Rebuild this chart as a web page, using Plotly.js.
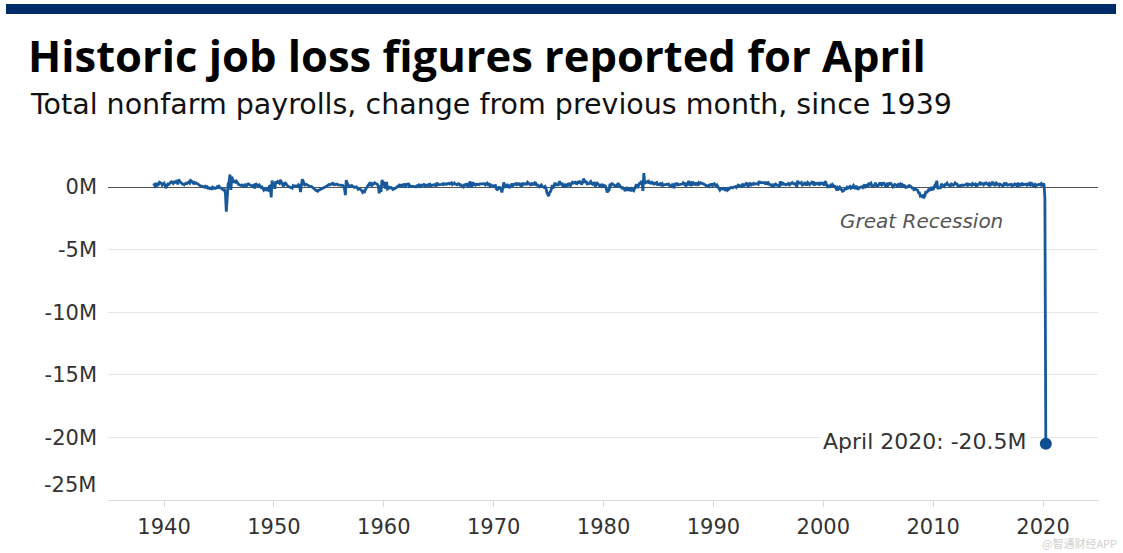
<!DOCTYPE html>
<html>
<head>
<meta charset="utf-8">
<script src="https://cdn.plot.ly/plotly-3.0.1.min.js"></script>
<style>
  html, body { margin: 0; padding: 0; background: #fff; }
  #chart { width: 1123px; height: 553px; }
</style>
</head>
<body>
<div id="chart"></div>
<script>
// Monthly change in total nonfarm payrolls, thousands, Jan 1939 .. Apr 2020
const startYear = 1939;
const monthlyChange = [
  140, 150, 220, -60, 330, 160, 200, 380, 340, 300, 150, 290,     // 1939
  310, 150, -90, 120, 240, 200, 260, 340, 420, 380, 290, 410,     // 1940
  380, 450, 520, 200, 610, 470, 380, 340, 250, 230, 180, 260,     // 1941
  310, 280, 350, 400, 320, 520, 470, 390, 300, 360, 280, 330,     // 1942
  270, 190, 180, 130, 90, 80, 40, 20, -10, 60, -20, 30,           // 1943
  -80, -60, -120, -90, -140, -20, -100, -60, -110, -80, 20, -40,  // 1944
  60, -30, -90, -180, -240, -230, -210, -480, -1960, -320, 260, 420, // 1945
  1000, -230, 820, 580, 350, 520, 400, 470, 320, 260, 180, 150,   // 1946
  120, 170, 110, 50, 140, 250, 90, 200, 260, 210, 160, 180,       // 1947
  120, 30, 230, -120, 290, 210, 140, 70, 160, 50, -30, 0,         // 1948
  -190, -250, -170, -140, -290, -180, -240, 60, 90, -820, 520, 160, // 1949
  190, -140, 460, 310, 430, 340, 300, 580, 360, 270, 120, 140,    // 1950
  370, 240, 200, 100, 40, 20, -40, -50, -90, 110, 60, 90,         // 1951
  80, 110, -30, 170, 110, -400, 120, 620, 480, 200, 160, 220,     // 1952
  180, 130, 90, 40, 30, 40, -20, -70, -120, -200, -280, -260,     // 1953
  -330, -250, -210, -130, -140, -110, -60, -30, 10, 40, 120, 180, // 1954
  200, 170, 230, 260, 300, 190, 240, 180, 210, 230, 170, 160,     // 1955
  120, 130, 100, 140, 30, -80, -650, 560, 300, 80, 40, 90,        // 1956
  70, 120, 40, 20, -30, -40, 10, -60, -180, -140, -160, -200,     // 1957
  -300, -420, -330, -370, -180, -60, 80, 160, 250, 110, 380, 140, // 1958
  180, 260, 340, 320, 250, 210, 90, -510, 100, -380, 550, 380,    // 1959
  340, 30, -110, 400, -150, -110, -20, -60, -40, -110, -200, -160, // 1960
  -110, -120, -40, 60, 70, 160, 120, 150, 80, 180, 210, 110,      // 1961
  -40, 300, 120, 320, 50, 80, 30, 70, 60, 30, 20, 0,              // 1962
  90, 70, 130, 230, 40, 80, 210, 70, 200, 160, -20, 160,          // 1963
  160, 200, 60, 190, 100, 150, 220, 200, 150, 50, 350, 180,       // 1964
  200, 190, 240, 220, 250, 190, 270, 250, 210, 260, 260, 300,     // 1965
  240, 280, 340, 200, 260, 320, 230, 200, 170, 250, 260, 170,     // 1966
  180, 80, 100, 20, 170, 180, 150, 300, 40, 120, 440, 250,        // 1967
  -50, 400, 150, 230, 160, 230, 190, 220, 190, 250, 280, 250,     // 1968
  250, 290, 270, 170, 270, 300, 180, 210, 70, 160, 100, 110,      // 1969
  70, 100, 120, -150, -210, -130, 40, -100, -170, -430, 180, 360, // 1970
  160, -50, 80, 180, 160, -80, 60, 100, 280, 110, 180, 240,       // 1971
  280, 190, 260, 200, 260, 190, 60, 340, 190, 260, 240, 220,      // 1972
  230, 380, 300, 210, 180, 240, 140, 350, 140, 340, 310, 160,     // 1973
  160, 80, 20, 100, 170, 50, 10, -20, 50, -60, -420, -580,        // 1974
  -720, -430, -370, -180, 150, -100, 230, 350, 120, 260, 100, 320, // 1975
  460, 230, 230, 250, -30, 40, 170, 130, 230, 50, 320, 200,       // 1976
  130, 290, 380, 320, 380, 390, 280, 270, 470, 290, 430, 390,     // 1977
  200, 340, 650, 550, 330, 480, 240, 270, 260, 360, 440, 270,     // 1978
  230, 310, 320, 30, 290, 320, 170, 130, 90, 220, 70, 170,        // 1979
  130, 100, 70, -150, -430, -300, -250, 240, 130, 270, 250, 160,  // 1980
  100, 70, 110, 190, 10, 180, 90, -60, -80, -50, -180, -220,      // 1981
  -310, -10, -130, -280, -40, -230, -330, -150, -270, -290, -120, 10, // 1982
  220, -70, 170, 270, 270, 410, 420, -310, 1110, 270, 350, 360,   // 1983
  450, 480, 270, 360, 310, 380, 310, 240, 310, 280, 350, 130,     // 1984
  270, 130, 340, 190, 270, 140, 180, 190, 200, 190, 210, 240,     // 1985
  120, 100, 90, 190, 130, -90, 320, 140, 340, 170, 190, 210,      // 1986
  170, 230, 240, 340, 230, 170, 340, 170, 230, 490, 230, 290,     // 1987
  90, 450, 220, 260, 220, 360, 220, 120, 340, 270, 340, 280,      // 1988
  270, 250, 190, 170, 120, 110, 40, 40, 250, 110, 280, 110,       // 1989
  200, 270, 190, 30, 150, 20, -40, -240, -130, -170, -150, -100,  // 1990
  -110, -300, -180, -240, -40, -160, -50, -30, -40, -70, -10, 30, // 1991
  40, -40, 70, 160, 120, 70, 40, 140, 30, 180, 140, 220,          // 1992
  290, 240, -20, 330, 270, 190, 310, 160, 280, 230, 260, 280,     // 1993
  280, 230, 460, 350, 350, 300, 340, 290, 350, 210, 410, 270,     // 1994
  330, 210, 220, 170, -10, 250, 90, 140, 240, 150, 130, 140,      // 1995
  -40, 450, 290, 160, 310, 270, 210, 170, 200, 250, 290, 170,     // 1996
  240, 310, 350, 290, 240, 280, 280, -20, 500, 330, 280, 300,     // 1997
  360, 150, 170, 280, 390, 190, 190, 360, 220, 190, 290, 350,     // 1998
  240, 460, 110, 360, 250, 260, 310, 210, 200, 390, 270, 290,     // 1999
  240, 130, 470, 280, 230, -50, 160, 0, 120, 20, 200, 110,        // 2000
  30, 50, -60, -280, -50, -130, -20, -150, -240, -330, -300, -170, // 2001
  -130, -150, -20, -90, -10, 40, -90, -10, -40, 120, 20, -150,    // 2002
  90, -160, -210, -50, -10, -10, 20, -40, 100, 200, 10, 110,      // 2003
  150, 40, 330, 250, 310, 80, 40, 120, 160, 350, 60, 140,         // 2004
  130, 240, 140, 360, 170, 240, 370, 190, 70, 80, 330, 160,       // 2005
  280, 310, 280, 180, 20, 80, 210, 180, 160, 0, 210, 170,         // 2006
  240, 90, 190, 80, 140, 80, -30, -20, 80, 80, 120, 100,          // 2007
  20, -80, -80, -220, -180, -170, -220, -260, -460, -470, -730, -700, // 2008
  -780, -700, -800, -690, -340, -470, -330, -210, -250, -200, 0, -280, // 2009
  20, -50, 160, 250, 500, -140, -60, -50, -60, 260, 130, 80,      // 2010
  40, 210, 220, 310, 120, 230, 70, 110, 240, 200, 140, 210,       // 2011
  330, 260, 240, 70, 100, 80, 140, 170, 160, 140, 170, 220,       // 2012
  190, 310, 140, 190, 220, 170, 140, 270, 190, 210, 250, 50,      // 2013
  190, 170, 270, 330, 240, 300, 240, 170, 280, 250, 330, 250,     // 2014
  190, 270, 70, 250, 330, 180, 290, 160, 160, 320, 250, 240,      // 2015
  130, 240, 210, 150, 40, 300, 350, 150, 250, 150, 180, 220,      // 2016
  230, 220, 80, 170, 140, 240, 190, 220, 20, 250, 220, 140,       // 2017
  190, 330, 180, 200, 270, 230, 160, 300, 110, 270, 180, 300,     // 2018
  270, 50, 150, 210, 70, 180, 160, 200, 220, 170, 270, 150,       // 2019
  210, 270, -870, -20500                                          // 2020
];

const yTickVals = [0, -5, -10, -15, -20];
const yTickText = ['0M', '-5M', '-10M', '-15M', '-20M'];
const xTickVals = [1940, 1950, 1960, 1970, 1980, 1990, 2000, 2010, 2020];
const xTickText = ['1940', '1950', '1960', '1970', '1980', '1990', '2000', '2010', '2020'];
const lastLabel = 'April 2020: -20.5M';
const lastPoint = { year: 2020, month: 4, value: -20500 };

const xs = monthlyChange.map((v, i) => startYear + i / 12);
const ys = monthlyChange.map(v => v / 1000);

const L = 108, R = 25, T = 160, B = 53;
const plotW = 1123 - L - R, plotH = 553 - T - B;
const px2paperX = p => (p - L) / plotW;
const py2paperY = p => (553 - B - p) / plotH;

const TITLE_FONT = '"Open Sans", Lato, sans-serif';
const FONT = '"DejaVu Sans", "Open Sans", sans-serif';

const traces = [
  {
    x: xs, y: ys, type: 'scatter', mode: 'lines',
    line: { color: '#17599a', width: 2.8 },
    hoverinfo: 'skip', showlegend: false
  },
  {
    x: [lastPoint.year + (lastPoint.month - 1) / 12], y: [lastPoint.value / 1000],
    type: 'scatter', mode: 'markers',
    marker: { color: '#0f4f8f', size: 12 },
    hoverinfo: 'skip', showlegend: false
  }
];

const layout = {
  width: 1123, height: 553,
  margin: { l: L, r: R, t: T, b: B, pad: 0 },
  paper_bgcolor: '#fff', plot_bgcolor: '#fff',
  font: { family: FONT, color: '#333' },
  title: {
    text: '<b>Historic job loss figures reported for April</b>',
    font: { family: TITLE_FONT, size: 43.5, color: '#000' },
    x: 28 / 1123, xanchor: 'left', xref: 'container',
    y: 1 - 57 / 553, yanchor: 'middle', yref: 'container'
  },
  xaxis: {
    range: [1934.9, 2025.0],
    tickvals: xTickVals, ticktext: xTickText,
    ticks: 'outside', ticklen: 6, tickcolor: '#d9d9d9', tickwidth: 1,
    ticklabelstandoff: 2,
    showline: true, linecolor: '#d9d9d9', linewidth: 1,
    showgrid: false, zeroline: false,
    tickfont: { family: FONT, size: 21, color: '#333' },
    fixedrange: true
  },
  yaxis: {
    range: [-25, 2.16],
    tickvals: yTickVals, ticktext: yTickText,
    ticks: '', ticklabelstandoff: 10,
    showgrid: true, gridcolor: '#e6e6e6', gridwidth: 1,
    zeroline: true, zerolinecolor: '#555', zerolinewidth: 1,
    showline: false,
    tickfont: { family: FONT, size: 21, color: '#333' },
    fixedrange: true
  },
  shapes: [
    {
      type: 'rect', xref: 'paper', yref: 'paper',
      x0: px2paperX(6), x1: px2paperX(1116),
      y0: py2paperY(14), y1: py2paperY(4),
      fillcolor: '#002d6a', line: { width: 0 }
    }
  ],
  annotations: [
    {
      text: 'Total nonfarm payrolls, change from previous month, since 1939',
      xref: 'paper', yref: 'paper',
      x: px2paperX(28), y: py2paperY(105),
      xanchor: 'left', yanchor: 'middle', showarrow: false,
      font: { family: FONT, size: 28.5, color: '#111' }
    },
    {
      text: '-25M', xref: 'paper', yref: 'y',
      x: px2paperX(98), y: -23.8, xanchor: 'right', yanchor: 'middle',
      showarrow: false, font: { family: FONT, size: 21, color: '#333' }
    },
    {
      text: '<i>Great Recession</i>', xref: 'x', yref: 'y',
      x: 2008.9, y: -2.75, xanchor: 'center', yanchor: 'middle',
      showarrow: false, font: { family: FONT, size: 20, color: '#555' }
    },
    {
      text: lastLabel, xref: 'x', yref: 'y',
      x: lastPoint.year + (lastPoint.month - 1) / 12, y: lastPoint.value / 1000 + 0.15,
      xanchor: 'right', yanchor: 'middle', xshift: -16,
      showarrow: false, bgcolor: '#fff', borderpad: 2,
      font: { family: FONT, size: 22, color: '#333' }
    },
    {
      text: '@智通财经APP', xref: 'paper', yref: 'paper',
      x: px2paperX(1118), y: py2paperY(543), xanchor: 'right', yanchor: 'middle',
      showarrow: false, borderpad: 0,
      font: { family: '"Noto Sans CJK SC", sans-serif', size: 11, color: '#d0d0d0' }
    }
  ]
};

Plotly.newPlot('chart', traces, layout, { displayModeBar: false, staticPlot: true });
</script>
</body>
</html>
